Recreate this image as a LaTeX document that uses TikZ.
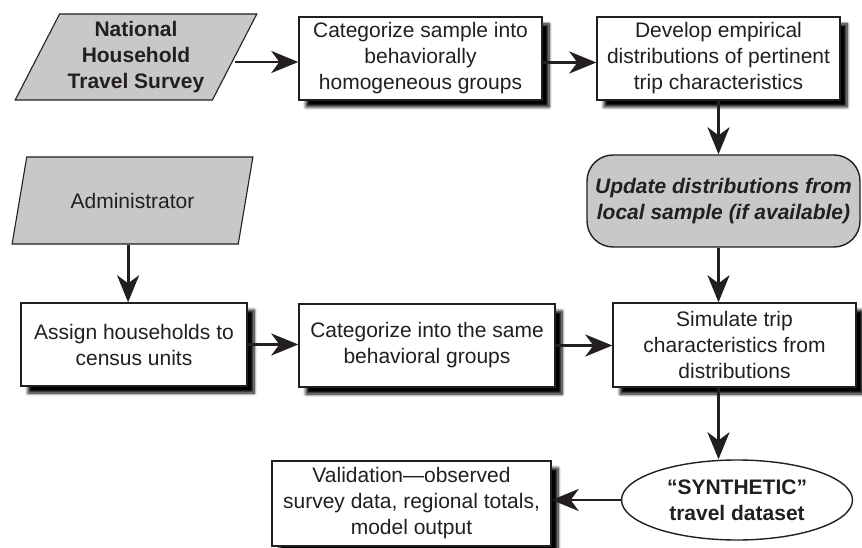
\documentclass[tikz,border=0pt]{standalone}
\usepackage{fontspec}
\setmainfont{Liberation Sans}
\usetikzlibrary{shapes.geometric,arrows.meta,shadows.blur}
\definecolor{ink}{RGB}{35,31,32}
\definecolor{panel}{RGB}{200,200,200}
\tikzset{
  txt/.style={font=\fontsize{21}{26}\selectfont, text=ink, align=center, inner sep=0pt},
  procbox/.style={txt, draw=ink, line width=1.4pt, fill=white,
    blur shadow={shadow xshift=7pt, shadow yshift=-7pt, shadow blur steps=8,
      shadow blur radius=3pt, shadow opacity=100}},
  inputbox/.style={txt, draw=ink, line width=1.1pt, fill=panel, trapezium,
    trapezium left angle=61, trapezium right angle=119, trapezium stretches=true},
  updbox/.style={txt, draw=ink, line width=1.4pt, fill=panel, rounded corners=26pt},
  outbox/.style={txt, draw=ink, line width=1.4pt, fill=white, ellipse},
  bigtip/.tip={Stealth[length=27pt, width=22pt, inset=8pt]},
  arr/.style={draw=ink, line width=2.8pt, -bigtip}
}
\begin{document}
\begin{tikzpicture}[x=1pt, y=1pt]
\useasboundingbox (0,0) rectangle (862,-548);

% first row: national survey and its processing
\node[inputbox, minimum width=242pt, minimum height=86pt, font=\fontsize{21}{26}\selectfont\bfseries]
  (nhts) at (136,-57) {National\\Household\\Travel Survey};
\node[procbox, minimum width=243pt, minimum height=83pt] (catsample) at (420.5,-58.5)
  {Categorize sample into\\behaviorally\\homogeneous groups};
\node[procbox, minimum width=243pt, minimum height=83pt] (develop) at (718.5,-58.5)
  {Develop empirical\\distributions of pertinent\\trip characteristics};

% local update
\node[updbox, minimum width=273pt, minimum height=92pt, font=\fontsize{21}{26}\selectfont\bfseries\itshape]
  (update) at (723.5,-201) {Update distributions from\\local sample (if available)};

% administrator branch
\node[inputbox, minimum width=241pt, minimum height=87pt] (admin) at (132.5,-200.5) {Administrator};
\node[procbox, minimum width=226pt, minimum height=83pt] (assign) at (134,-344.5)
  {Assign households to\\census units};
\node[procbox, minimum width=256pt, minimum height=83pt] (catsame) at (427,-345.5)
  {Categorize into the same\\behavioral groups};
\node[procbox, minimum width=243pt, minimum height=84pt] (simulate) at (734.5,-345)
  {Simulate trip\\characteristics from\\distributions};

% output and validation
\node[outbox, minimum width=231pt, minimum height=80pt, font=\fontsize{21}{26}\selectfont\bfseries]
  (synth) at (737,-500) {“SYNTHETIC”\\travel dataset};
\node[procbox, minimum width=279pt, minimum height=85pt] (valid) at (411.5,-503.5)
  {Validation—observed\\survey data, regional totals,\\model output};

% connectors
\draw[arr] ([yshift=-5pt]nhts.right side) -- ([yshift=-5pt]nhts.right side -| catsample.west);
\draw[arr] ([yshift=-4pt]catsample.east) -- ([yshift=-4pt]develop.west);
\draw[arr] (develop.south) -- (develop.south |- update.north);
\draw[arr] (develop.south |- update.south) -- (develop.south |- simulate.north);
\draw[arr] (develop.south |- simulate.south) -- (develop.south |- synth.north);
\draw[arr] (synth.west) -- (synth.west -| valid.east);
\draw[arr] ([xshift=3pt]admin.bottom side) -- ([xshift=3pt]admin.bottom side |- assign.north);
\draw[arr] (assign.east) -- (assign.east -| catsame.west);
\draw[arr] (catsame.east) -- (catsame.east -| simulate.west);
\end{tikzpicture}
\end{document}
